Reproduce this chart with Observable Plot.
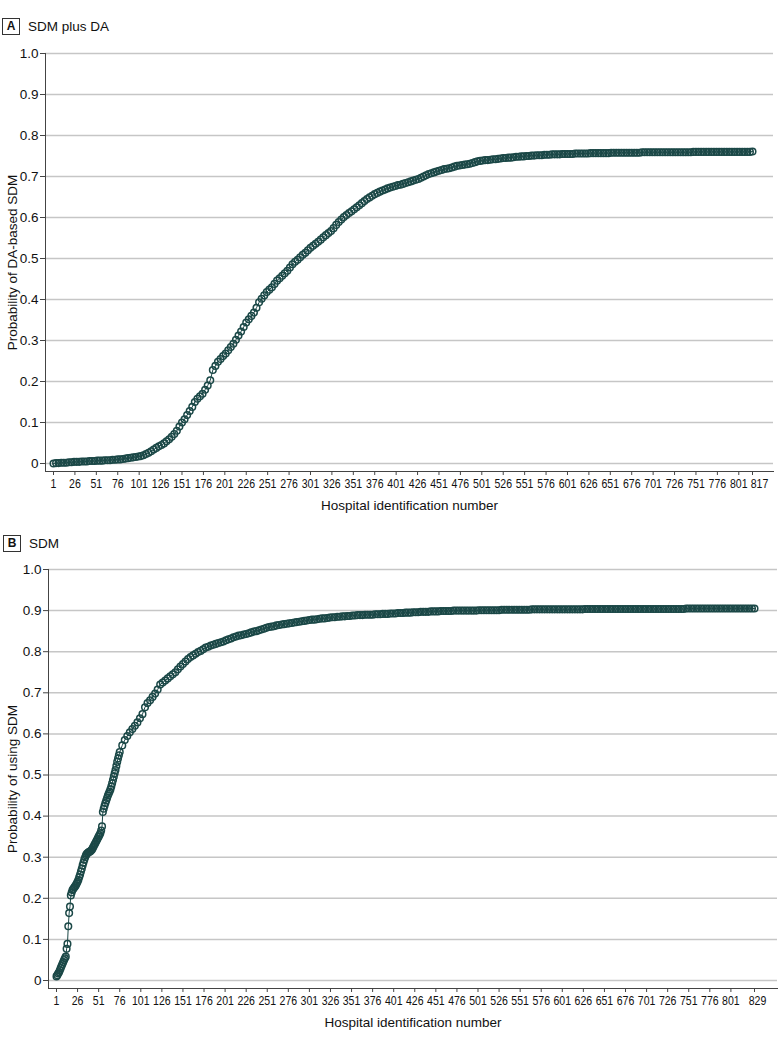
<!DOCTYPE html>
<html><head><meta charset="utf-8">
<script src="https://cdn.jsdelivr.net/npm/d3@7"></script>
<script src="https://cdn.jsdelivr.net/npm/@observablehq/plot@0.6"></script>
<style>
body{margin:0;background:#fff;font-family:"Liberation Sans",Arial,sans-serif;}
#wrap{position:relative;width:783px;height:1042px;overflow:hidden;}
.ptitle{position:absolute;display:flex;align-items:center;font-size:13.5px;color:#111;}
.ptitle .box{display:inline-block;box-sizing:border-box;border:1px solid #333;width:18px;height:17px;line-height:15px;text-align:center;font-weight:bold;font-size:12px;margin-right:8px;}
.panel{position:absolute;left:0;}
</style></head>
<body><div id="wrap"></div>
<script>
// Panel A: probability of DA-based SDM, hospitals 1,4,7,...,817 (every 3rd hospital)
const probA = [
0.000,0.001,0.001,0.002,0.002,0.002,0.003,0.003,0.004,0.004,
0.004,0.005,0.005,0.005,0.006,0.006,0.006,0.007,0.007,0.007,
0.008,0.008,0.008,0.009,0.009,0.010,0.010,0.011,0.012,0.013,
0.014,0.015,0.016,0.017,0.018,0.020,0.023,0.026,0.030,0.034,
0.038,0.042,0.045,0.049,0.054,0.059,0.065,0.072,0.080,0.090,
0.100,0.108,0.118,0.128,0.138,0.150,0.158,0.164,0.170,0.180,
0.190,0.203,0.228,0.238,0.248,0.255,0.262,0.268,0.276,0.284,
0.292,0.302,0.312,0.322,0.333,0.344,0.352,0.360,0.368,0.380,
0.393,0.402,0.410,0.418,0.424,0.430,0.438,0.446,0.452,0.458,
0.464,0.470,0.478,0.486,0.492,0.497,0.503,0.509,0.514,0.520,
0.526,0.531,0.536,0.541,0.546,0.552,0.557,0.562,0.567,0.574,
0.582,0.589,0.595,0.601,0.606,0.611,0.615,0.620,0.625,0.630,
0.635,0.640,0.645,0.649,0.653,0.657,0.660,0.663,0.666,0.668,
0.671,0.673,0.675,0.677,0.679,0.680,0.682,0.684,0.686,0.688,
0.690,0.692,0.694,0.697,0.700,0.703,0.706,0.708,0.710,0.712,
0.714,0.716,0.718,0.719,0.720,0.722,0.724,0.726,0.727,0.728,
0.729,0.730,0.731,0.733,0.735,0.737,0.738,0.739,0.740,0.740,
0.741,0.742,0.742,0.743,0.744,0.745,0.745,0.746,0.746,0.747,
0.748,0.748,0.749,0.749,0.750,0.750,0.751,0.751,0.752,0.752,
0.752,0.753,0.753,0.753,0.754,0.754,0.754,0.754,0.755,0.755,
0.755,0.755,0.755,0.756,0.756,0.756,0.756,0.756,0.756,0.757,
0.757,0.757,0.757,0.757,0.757,0.757,0.757,0.758,0.758,0.758,
0.758,0.758,0.758,0.758,0.758,0.758,0.758,0.758,0.758,0.759,
0.759,0.759,0.759,0.759,0.759,0.759,0.759,0.759,0.759,0.759,
0.759,0.759,0.759,0.759,0.759,0.759,0.759,0.759,0.759,0.760,
0.760,0.760,0.760,0.760,0.760,0.760,0.760,0.760,0.760,0.760,
0.760,0.760,0.760,0.760,0.760,0.760,0.760,0.760,0.760,0.760,
0.760,0.760,0.761
];
// Panel B: probability of using SDM, hospitals 1..75 (each hospital)
const probBEarly = [
0.010,0.013,0.017,0.020,0.025,0.030,0.035,0.040,0.045,0.050,
0.054,0.058,0.077,0.089,0.132,0.164,0.180,0.207,0.214,0.220,
0.223,0.226,0.229,0.232,0.236,0.240,0.245,0.252,0.258,0.265,
0.272,0.280,0.287,0.294,0.300,0.305,0.308,0.310,0.312,0.313,
0.314,0.316,0.318,0.322,0.326,0.330,0.334,0.338,0.342,0.346,
0.350,0.354,0.358,0.365,0.375,0.410,0.418,0.425,0.432,0.438,
0.444,0.450,0.455,0.460,0.465,0.472,0.480,0.488,0.496,0.504,
0.512,0.522,0.532,0.540,0.548
];
// Panel B: hospitals 76,79,...,829 (every 3rd hospital)
const probBLate = [
0.556,0.572,0.585,0.595,0.604,0.612,0.620,0.628,0.638,0.648,
0.665,0.675,0.682,0.690,0.698,0.708,0.720,0.725,0.730,0.735,
0.740,0.745,0.750,0.757,0.764,0.770,0.776,0.782,0.787,0.791,
0.795,0.799,0.802,0.806,0.810,0.812,0.815,0.817,0.819,0.821,
0.823,0.825,0.828,0.830,0.832,0.835,0.837,0.839,0.840,0.842,
0.843,0.845,0.847,0.849,0.850,0.852,0.854,0.856,0.858,0.860,
0.861,0.862,0.864,0.865,0.866,0.867,0.868,0.869,0.870,0.871,
0.872,0.873,0.874,0.875,0.876,0.877,0.878,0.878,0.879,0.880,
0.881,0.881,0.882,0.883,0.884,0.884,0.885,0.885,0.886,0.886,
0.887,0.887,0.888,0.888,0.889,0.889,0.889,0.890,0.890,0.890,
0.890,0.891,0.891,0.891,0.892,0.892,0.892,0.893,0.893,0.893,
0.894,0.894,0.894,0.895,0.895,0.895,0.896,0.896,0.896,0.897,
0.897,0.897,0.897,0.898,0.898,0.898,0.898,0.899,0.899,0.899,
0.899,0.899,0.900,0.900,0.900,0.900,0.900,0.900,0.900,0.900,
0.900,0.900,0.901,0.901,0.901,0.901,0.901,0.901,0.901,0.901,
0.901,0.902,0.902,0.902,0.902,0.902,0.902,0.902,0.902,0.902,
0.902,0.902,0.902,0.903,0.903,0.903,0.903,0.903,0.903,0.903,
0.903,0.903,0.903,0.903,0.903,0.903,0.903,0.903,0.903,0.903,
0.903,0.903,0.903,0.903,0.904,0.904,0.904,0.904,0.904,0.904,
0.904,0.904,0.904,0.904,0.904,0.904,0.904,0.904,0.904,0.904,
0.904,0.904,0.904,0.904,0.904,0.904,0.904,0.904,0.904,0.904,
0.904,0.904,0.904,0.904,0.904,0.904,0.904,0.904,0.904,0.904,
0.904,0.904,0.904,0.904,0.905,0.905,0.905,0.905,0.905,0.905,
0.905,0.905,0.905,0.905,0.905,0.905,0.905,0.905,0.905,0.905,
0.905,0.905,0.905,0.905,0.905,0.905,0.905,0.905,0.905,0.905,
0.905,0.905
];
const xTicksA = [1,26,51,76,101,126,151,176,201,226,251,276,301,326,351,376,401,426,451,476,501,526,551,576,601,626,651,676,701,726,751,776,801,817];
const xTicksB = [1,26,51,76,101,126,151,176,201,226,251,276,301,326,351,376,401,426,451,476,501,526,551,576,601,626,651,676,701,726,751,776,801,829];
const yTicks = [0,0.1,0.2,0.3,0.4,0.5,0.6,0.7,0.8,0.9,1.0];
const titles = [["A","SDM plus DA"],["B","SDM"]];
const yLabels = ["Probability of DA-based SDM","Probability of using SDM"];
const xLabel = "Hospital identification number";

const dataA = probA.map((p, i) => ({id: 1 + 3 * i, p}));
const dataB = probBEarly.map((p, i) => ({id: 1 + i, p}))
  .concat(probBLate.map((p, i) => ({id: 76 + 3 * i, p})));

const FONT = '"Liberation Sans",Arial,sans-serif';
const COLOR = "#1b4847";

function panel(o) {
  return Plot.plot({
    width: 783, height: o.height,
    marginTop: o.marginTop, marginBottom: o.marginBottom,
    marginLeft: o.marginLeft, marginRight: o.marginRight,
    insetBottom: 8, insetLeft: o.insetLeft, insetRight: o.insetRight,
    style: {fontFamily: FONT, fontSize: "13px", color: "#111", background: "transparent", overflow: "visible"},
    x: {domain: [1, o.xMax]},
    y: {domain: [0, 1]},
    marks: [
      Plot.gridY(yTicks, {stroke: "#c6c6c6", strokeOpacity: 1, strokeWidth: 1.5}),
      Plot.frame({anchor: "left", stroke: "#444"}),
      Plot.frame({anchor: "bottom", stroke: "#444"}),
      Plot.axisY(yTicks, {tickSize: 5, tickPadding: 2, stroke: "#444", fontSize: 13.5,
        tickFormat: d => d === 0 ? "0" : d3.format(".1f")(d),
        label: o.yLabel, labelAnchor: "center", labelArrow: "none", labelOffset: o.yLabelOffset}),
      Plot.axisX(o.xTicks, {tickSize: 4, tickPadding: 3, stroke: "#444", fontSize: 13.5,
        tickFormat: d => String(d),
        label: xLabel, labelAnchor: "center", labelArrow: "none", labelOffset: o.xLabelOffset}),
      Plot.line(o.data, {x: "id", y: "p", stroke: COLOR, strokeWidth: 1}),
      Plot.dot(o.data, {x: "id", y: "p", r: 3.3, stroke: COLOR, strokeWidth: 1.5, fill: "none"})
    ]
  });
}

// narrow the x tick labels, which are set in a condensed face in the reference;
// the last label sits a little to the right of its tick, as in the reference
function condenseXTicks(svg, lastShift) {
  const texts = svg.querySelectorAll('g[aria-label="x-axis tick label"] text');
  texts.forEach((t, i) => {
    const w = t.getComputedTextLength();
    t.setAttribute("textLength", (w * 0.78).toFixed(2));
    t.setAttribute("lengthAdjust", "spacingAndGlyphs");
    if (i === texts.length - 1) t.setAttribute("dx", lastShift);
  });
}

const wrap = document.getElementById("wrap");

function addTitle(t, left, top) {
  const d = document.createElement("div");
  d.className = "ptitle";
  d.style.left = left + "px"; d.style.top = top + "px";
  const b = document.createElement("span"); b.className = "box"; b.textContent = t[0];
  const s = document.createElement("span"); s.textContent = t[1];
  d.appendChild(b); d.appendChild(s);
  wrap.appendChild(d);
}

const svgA = panel({data: dataA, xTicks: xTicksA, xMax: 817, yLabel: yLabels[0],
  height: 520, marginTop: 53, marginBottom: 49, marginLeft: 45, marginRight: 10,
  insetLeft: 8, insetRight: 21, yLabelOffset: 38, xLabelOffset: 38});
svgA.classList.add("panel"); svgA.style.top = "0px";
wrap.appendChild(svgA);
condenseXTicks(svgA, 7);
addTitle(titles[0], 2, 18);

const svgB = panel({data: dataB, xTicks: xTicksB, xMax: 829, yLabel: yLabels[1],
  height: 522, marginTop: 49, marginBottom: 54, marginLeft: 48, marginRight: 6,
  insetLeft: 8, insetRight: 23, yLabelOffset: 41, xLabelOffset: 38});
svgB.classList.add("panel"); svgB.style.top = "520px";
wrap.appendChild(svgB);
condenseXTicks(svgB, 3);
addTitle(titles[1], 3, 535);
</script>
</body></html>
